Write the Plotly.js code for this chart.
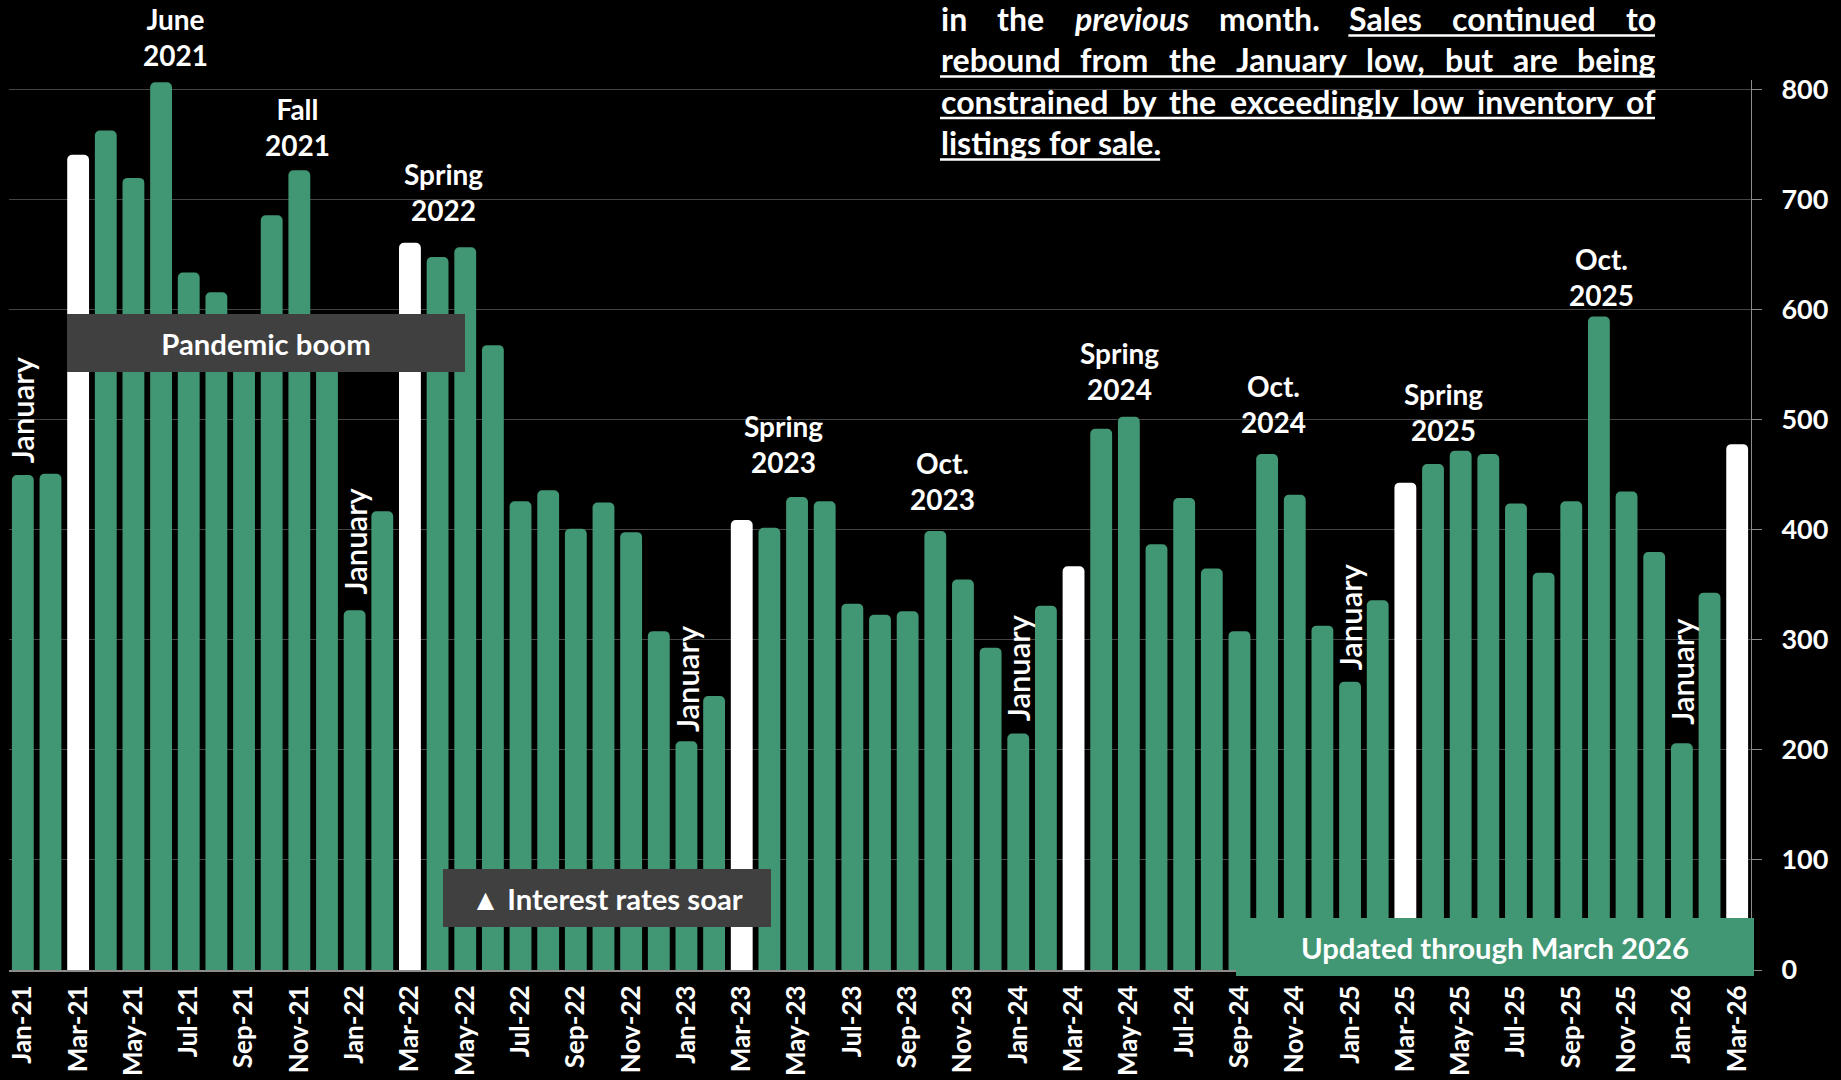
<!DOCTYPE html>
<html>
<head>
<meta charset="utf-8">
<script src="https://cdn.plot.ly/plotly-3.0.1.min.js"></script>
<style>
html,body{margin:0;padding:0;background:#000;}
#chart{width:1841px;height:1080px;}
</style>
</head>
<body>
<div id="chart"></div>
<script>
// ---------------- DATA ----------------
const months = [
  "Jan-21","Feb-21","Mar-21","Apr-21","May-21","Jun-21","Jul-21","Aug-21","Sep-21","Oct-21","Nov-21","Dec-21",
  "Jan-22","Feb-22","Mar-22","Apr-22","May-22","Jun-22","Jul-22","Aug-22","Sep-22","Oct-22","Nov-22","Dec-22",
  "Jan-23","Feb-23","Mar-23","Apr-23","May-23","Jun-23","Jul-23","Aug-23","Sep-23","Oct-23","Nov-23","Dec-23",
  "Jan-24","Feb-24","Mar-24","Apr-24","May-24","Jun-24","Jul-24","Aug-24","Sep-24","Oct-24","Nov-24","Dec-24",
  "Jan-25","Feb-25","Mar-25","Apr-25","May-25","Jun-25","Jul-25","Aug-25","Sep-25","Oct-25","Nov-25","Dec-25",
  "Jan-26","Feb-26","Mar-26"
];
const sales = [
  450, 451, 741, 763, 720, 807, 634, 616, 578, 686, 727, 562,
  327, 417, 661, 648, 657, 568, 426, 436, 401, 425, 398, 308,
  208, 249, 409, 402, 430, 426, 333, 323, 326, 399, 355, 293,
  215, 331, 367, 492, 503, 387, 429, 365, 308, 469, 432, 313,
  262, 336, 443, 460, 472, 469, 424, 361, 426, 594, 435, 380,
  206, 343, 478
];
const xTickLabels = [
  "Jan-21","Mar-21","May-21","Jul-21","Sep-21","Nov-21",
  "Jan-22","Mar-22","May-22","Jul-22","Sep-22","Nov-22",
  "Jan-23","Mar-23","May-23","Jul-23","Sep-23","Nov-23",
  "Jan-24","Mar-24","May-24","Jul-24","Sep-24","Nov-24",
  "Jan-25","Mar-25","May-25","Jul-25","Sep-25","Nov-25",
  "Jan-26","Mar-26"
];
const yTickValues = [0, 100, 200, 300, 400, 500, 600, 700, 800];
const januaryMonths = ["Jan-21","Jan-22","Jan-23","Jan-24","Jan-25","Jan-26"];
const januaryText = "January";
const seasonLabels = ["June<br>2021","Fall<br>2021","Spring<br>2022","Spring<br>2023","Oct.<br>2023",
                      "Spring<br>2024","Oct.<br>2024","Spring<br>2025","Oct.<br>2025"];
const boxLabels = ["Pandemic boom", "\u25B2 Interest rates soar", "Updated through March 2026"];
const noteLines = [
  ["in","the","previous","month.","Sales","continued","to"],
  ["rebound","from","the","January","low,","but","are","being"],
  ["constrained","by","the","exceedingly","low","inventory","of"],
  ["listings","for","sale."]
];
const noteItalicWords = ["previous"];
const noteUnderlineFrom = "Sales";

// ---------------- STYLE / GEOMETRY ----------------
const W = 1841, H = 1080;
const PL = 9, PR = 1751, PT = 80, PB = 970;
const GREEN = "#419673", WHITE = "#ffffff", BOXGRAY = "#404040";
const AXISGRAY = "#8c8c8c", GRIDGRAY = "#444444";
const FONT = "Lato";
function pxX(x){ return (x - PL) / (PR - PL); }
function pxY(y){ return (PB - y) / (PB - PT); }

const annotations = [];
const shapes = [];

// Season / peak labels (center x px, bottom of second line px)
const seasonPos = [[175,67],[297,157],[443,222],[783,474],[942,511],[1119,401],[1273,434],[1443,442],[1601,307]];
seasonLabels.forEach((t, i) => {
  annotations.push({
    xref:"paper", yref:"paper", x:pxX(seasonPos[i][0]), y:pxY(seasonPos[i][1] + 6),
    xanchor:"center", yanchor:"bottom", showarrow:false, borderpad:0,
    text:"<b>" + t + "</b>", align:"center",
    font:{family:FONT, size:28, color:WHITE}
  });
});

// Rotated "January" labels sitting on top of the January bars
const janGaps = [11, 15, 8, 11, 10, 18];
januaryMonths.forEach((m, i) => {
  const v = sales[months.indexOf(m)];
  annotations.push({
    xref:"x", yref:"y", x:m, y:v, xanchor:"center", yanchor:"bottom",
    yshift: janGaps[i], textangle:-90, showarrow:false, borderpad:0,
    text: januaryText, font:{family:FONT, size:31, color:WHITE, weight:600}
  });
});

// Boxes
const boxGeo = [
  {cx:265.5, cy:342.5, w:398, h:58, bg:BOXGRAY},
  {cx:606.5, cy:897.5, w:328, h:58, bg:BOXGRAY},
  {cx:1494.8, cy:947.4, w:518, h:58, bg:GREEN}
];
boxLabels.forEach((t, i) => {
  const g = boxGeo[i];
  annotations.push({
    xref:"paper", yref:"paper", x:pxX(g.cx), y:pxY(g.cy), xanchor:"center", yanchor:"middle",
    width:g.w, height:g.h, bgcolor:g.bg, borderpad:0, borderwidth:0, showarrow:false,
    text:"<b>" + t + "</b>", align:"center", valign:"middle",
    font:{family:FONT, size:29.3, color:WHITE}
  });
});

// Justified note paragraph at the top
const NOTE_X0 = 940, NOTE_X1 = 1655, NOTE_SIZE = 32.1;
const noteBaselines = [31, 72, 113.5, 155];
const mctx = document.createElement("canvas").getContext("2d");
function textWidth(t, italic){
  mctx.font = (italic ? "italic " : "") + "bold " + NOTE_SIZE + "px " + FONT;
  return mctx.measureText(t).width;
}
noteLines.forEach((words, li) => {
  const justify = li < noteLines.length - 1;
  const widths = words.map(w => textWidth(w, noteItalicWords.includes(w)));
  const total = widths.reduce((a, b) => a + b, 0);
  const gap = justify ? (NOTE_X1 - NOTE_X0 - total) / (words.length - 1) : textWidth(" ", false);
  let x = NOTE_X0, ulStart = (li === 0) ? null : NOTE_X0;
  const base = noteBaselines[li];
  words.forEach((w, i) => {
    const it = noteItalicWords.includes(w);
    if (w === noteUnderlineFrom && li === 0) ulStart = x;
    annotations.push({
      xref:"paper", yref:"paper", x:pxX(x), y:pxY(base - 0.387 * NOTE_SIZE),
      xanchor:"left", yanchor:"middle", showarrow:false, borderpad:0,
      text:"<b>" + (it ? "<i>" + w + "</i>" : w) + "</b>",
      font:{family:FONT, size:NOTE_SIZE, color:WHITE}
    });
    x += widths[i] + (i < words.length - 1 ? gap : 0);
  });
  shapes.push({
    type:"line", xref:"paper", yref:"paper",
    x0:pxX(ulStart), x1:pxX(x), y0:pxY(base + 4.5), y1:pxY(base + 4.5),
    line:{color:WHITE, width:2.5}
  });
});

// Boundary tick positions (every two categories)
const boundaryTicks = [];
for (let i = 0; i < months.length; i += 2) boundaryTicks.push(i - 0.5);

const trace = {
  type:"bar", x:months, y:sales,
  marker:{color:months.map(m => m.startsWith("Mar") ? WHITE : GREEN), cornerradius:5, line:{width:0}},
  hoverinfo:"skip"
};

const layout = {
  width:W, height:H,
  margin:{l:PL, r:W - PR, t:PT, b:H - PB, pad:0},
  paper_bgcolor:"#000000", plot_bgcolor:"#000000",
  showlegend:false, bargap:0.21,
  font:{family:FONT, color:WHITE},
  xaxis:{
    type:"category", categoryorder:"array", categoryarray:months,
    tickmode:"array", tickvals:xTickLabels, ticktext:xTickLabels,
    tickangle:-90, ticks:"", ticklen:0, ticklabelstandoff:3,
    tickfont:{family:FONT, size:26, color:WHITE, weight:"bold"},
    showline:true, linecolor:AXISGRAY, linewidth:2, showgrid:false, zeroline:false,
    range:[-0.5, months.length - 0.5], fixedrange:true
  },
  xaxis2:{
    overlaying:"x", anchor:"y", side:"bottom", type:"linear",
    range:[-0.5, months.length - 0.5], tickmode:"array", tickvals:boundaryTicks,
    ticks:"outside", ticklen:9, tickwidth:1, tickcolor:AXISGRAY,
    showticklabels:false, showgrid:false, zeroline:false, showline:false, fixedrange:true
  },
  yaxis:{
    side:"right", range:[0, 809], tickmode:"array", tickvals:yTickValues,
    ticks:"outside", ticklen:10, tickwidth:1, tickcolor:AXISGRAY, ticklabelstandoff:14,
    tickfont:{family:FONT, size:27, color:WHITE, weight:"bold"},
    showline:true, linecolor:AXISGRAY, linewidth:1,
    showgrid:true, gridcolor:GRIDGRAY, gridwidth:1, zeroline:false, fixedrange:true
  },
  annotations:annotations,
  shapes:shapes
};

Plotly.newPlot("chart", [trace], layout, {displayModeBar:false, staticPlot:true});
</script>
</body>
</html>
